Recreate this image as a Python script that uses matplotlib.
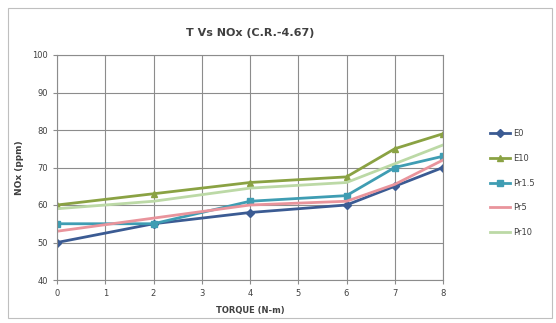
import matplotlib
matplotlib.use("Agg")
import matplotlib.pyplot as plt
from matplotlib.patches import Rectangle

torque = [0, 2, 4, 6, 7, 8]
e0 = [50, 55, 58, 60, 65, 70]
e10 = [60, 63, 66, 67.5, 75, 79]
pr15 = [55, 55, 61, 62.5, 70, 73]
pr5 = [53, 56.5, 60, 61, 65.5, 72]
pr10 = [59, 61, 64.5, 66, 71, 76]
series_names = ["E0", "E10", "Pr1.5", "Pr5", "Pr10"]
x_ticks = [0, 1, 2, 3, 4, 5, 6, 7, 8]
y_ticks = [40, 50, 60, 70, 80, 90, 100]

colors = ["#3b5b93", "#8aa243", "#3f9db3", "#e9949c", "#bcd9a6"]
markers = ["D", "^", "s", None, None]
data = [e0, e10, pr15, pr5, pr10]

W, H = 556, 323
fig = plt.figure(figsize=(W / 100, H / 100), dpi=100)
fig.patch.set_facecolor("white")
fig.add_artist(Rectangle((8 / W, 5 / H), 544 / W, 310 / H, transform=fig.transFigure,
                         fill=False, edgecolor="#bfbfbf", linewidth=0.8))

ax = fig.add_axes([57 / W, 1 - 280 / H, (443 - 57) / W, (280 - 55) / H])
for name, vals, c, m in zip(series_names, data, colors, markers):
    ax.plot(torque, vals, color=c, linewidth=2.0, marker=m, markersize=4,
            markerfacecolor=c, markeredgecolor=c, label=name)

ax.set_xlim(0, 8)
ax.set_ylim(40, 100)
ax.set_xticks(x_ticks)
ax.set_yticks(y_ticks)
ax.grid(True, color="#8c8c8c", linewidth=0.8)
ax.set_axisbelow(True)
for s in ax.spines.values():
    s.set_color("#8c8c8c")
    s.set_linewidth(0.8)
ax.tick_params(labelsize=6, colors="#404040", length=3, color="#8c8c8c")
ax.set_title("T Vs NOx (C.R.-4.67)", fontsize=8, fontweight="bold", color="#404040", pad=14)
ax.set_xlabel("TORQUE (N-m)", fontsize=6, fontweight="bold", color="#404040", labelpad=6)
ax.set_ylabel("NOx (ppm)", fontsize=6.5, fontweight="bold", color="#404040", labelpad=6)

leg = fig.legend(loc="center left", bbox_to_anchor=(482 / W, 1 - 183 / H), frameon=False,
                 fontsize=6, handlelength=2.5, labelspacing=1.9, handletextpad=0.3)
for t in leg.get_texts():
    t.set_color("#404040")

fig.savefig("out.png", dpi=100)
